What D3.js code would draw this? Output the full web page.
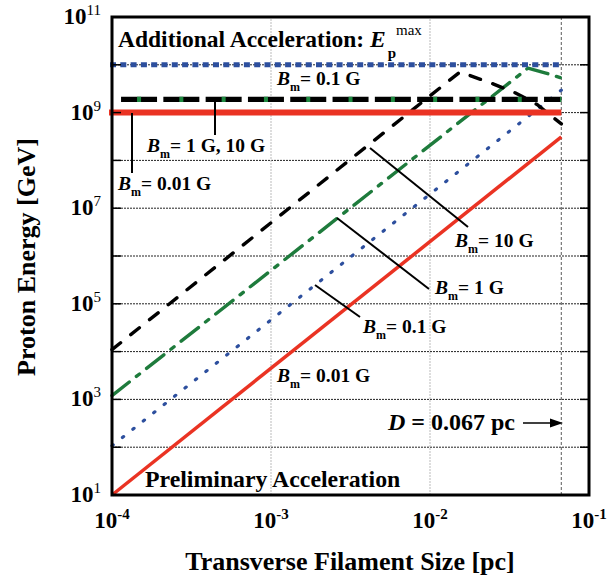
<!DOCTYPE html>
<html>
<head>
<meta charset="utf-8">
<script src="https://cdn.jsdelivr.net/npm/d3@7"></script>
<style>
  body { margin: 0; background: #fff; }
  svg { font-family: "Liberation Serif", "Times New Roman", serif; }
</style>
</head>
<body>
<script>
// axis ticks
const xTicks = [1e-4, 1e-3, 1e-2, 1e-1];
const xTickExp = ["-4", "-3", "-2", "-1"];
const yTicks = [1e1, 1e3, 1e5, 1e7, 1e9, 1e11];
const yTickExp = ["1", "3", "5", "7", "9", "11"];
const gridY = [1e2, 1e3, 1e4, 1e5, 1e6, 1e7, 1e8, 1e9, 1e10];
const gridX = [1e-3, 1e-2];
const filamentD = 0.067;

// preliminary acceleration, one curve per B_m (size in pc, energy in GeV)
const redSize = [1e-4, 0.067];
const redEnergy = [10, 3.1e8];
const blueSize = [1e-4, 0.067];
const blueEnergy = [107, 2.95e9];
const greenSize = [1e-4, 0.0413, 0.0528, 0.067];
const greenEnergy = [1.2e3, 8.5e9, 6.8e9, 5.3e9];
const blackSize = [1e-4, 0.01545, 0.0249, 0.0343, 0.0471, 0.067];
const blackEnergy = [1.1e4, 7.1e9, 4.0e9, 2.6e9, 1.48e9, 5.8e8];

// additional acceleration: E_p^max levels
const emaxBlue = 1e10;      // B_m = 0.1 G
const emaxBlack = 1.9e9;    // B_m = 1 G, 10 G
const emaxRed = 1e9;        // B_m = 0.01 G
const emaxStart = [1e-4, 1.14e-4, 1e-4];

const width = 608, height = 580;
const svg = d3.select("body").append("svg")
    .attr("width", width)
    .attr("height", height);

const x = d3.scaleLog().domain([1e-4, 1e-1]).range([112, 589]);
const y = d3.scaleLog().domain([1e1, 1e11]).range([495, 17]);

const line = d3.line()
    .x(d => x(d[0]))
    .y(d => y(d[1]));

// grid
svg.selectAll(".gy")
    .data(gridY)
    .enter()
    .append("line")
    .attr("x1", x(1e-4)).attr("x2", x(1e-1))
    .attr("y1", d => y(d)).attr("y2", d => y(d))
    .attr("stroke", "#222")
    .attr("stroke-width", 1)
    .attr("stroke-dasharray", "2,1");

svg.selectAll(".gx")
    .data(gridX)
    .enter()
    .append("line")
    .attr("x1", d => x(d)).attr("x2", d => x(d))
    .attr("y1", y(1e1)).attr("y2", y(1e11))
    .attr("stroke", "#bbb")
    .attr("stroke-width", 1)
    .attr("stroke-dasharray", "2,1");

svg.append("line")
    .attr("x1", x(filamentD)).attr("x2", x(filamentD))
    .attr("y1", y(1e1)).attr("y2", y(1e11))
    .attr("stroke", "#777")
    .attr("stroke-width", 1.2)
    .attr("stroke-dasharray", "3,2");

// curves
function curve(sizes, energies, color, w, dash, cap) {
  svg.append("path")
      .attr("d", line(sizes.map((s, i) => [s, energies[i]])))
      .attr("fill", "none")
      .attr("stroke", color)
      .attr("stroke-width", w)
      .attr("stroke-dasharray", dash)
      .attr("stroke-linecap", cap);
}
curve(blueSize, blueEnergy, "#2d4f9e", 3.2, "1.5,11.8", "round");
curve(greenSize, greenEnergy, "#1e7b3c", 3.4, "22,9,4,9", "round");
curve(blackSize, blackEnergy, "#000", 3.4, "11,13", "round");
curve(redSize, redEnergy, "#ea3323", 3.5, null, "butt");

// E_p^max levels
svg.append("line")
    .attr("x1", x(emaxStart[0]) - 2).attr("x2", x(filamentD))
    .attr("y1", y(emaxBlue)).attr("y2", y(emaxBlue))
    .attr("stroke", "#2d4f9e")
    .attr("stroke-width", 5)
    .attr("stroke-dasharray", "6,4.3");

svg.append("line")
    .attr("x1", x(emaxStart[1])).attr("x2", x(filamentD))
    .attr("y1", y(emaxBlack)).attr("y2", y(emaxBlack))
    .attr("stroke", "#000")
    .attr("stroke-width", 5.3)
    .attr("stroke-dasharray", "36,6.3");

svg.append("line")
    .attr("x1", x(emaxStart[1])).attr("x2", x(filamentD))
    .attr("y1", y(emaxBlack)).attr("y2", y(emaxBlack))
    .attr("stroke", "#1e8a40")
    .attr("stroke-width", 5.3)
    .attr("stroke-dasharray", "4,38.3")
    .attr("stroke-dashoffset", 26.3);

svg.append("line")
    .attr("x1", x(emaxStart[2]) - 3).attr("x2", x(filamentD))
    .attr("y1", y(emaxRed)).attr("y2", y(emaxRed))
    .attr("stroke", "#ea3323")
    .attr("stroke-width", 6);

// leader lines for the labels
const leaders = [
  [[215, 102], [215, 135]],
  [[132, 113], [132, 173]],
  [[370, 148], [468, 227]],
  [[337, 218], [429, 289]],
  [[315, 285], [360, 317]]
];
leaders.forEach(l => {
  svg.append("line")
      .attr("x1", l[0][0]).attr("y1", l[0][1])
      .attr("x2", l[1][0]).attr("y2", l[1][1])
      .attr("stroke", "#000")
      .attr("stroke-width", 2);
});

function bLabel(px, py, rest) {
  const t = svg.append("text")
      .attr("x", px).attr("y", py)
      .attr("font-size", 19.5)
      .attr("font-weight", "bold");
  t.append("tspan").attr("font-style", "italic").text("B");
  t.append("tspan").attr("font-size", 12).attr("dy", 6).text("m");
  t.append("tspan").attr("dy", -6).text("= " + rest);
}
bLabel(277, 85, "0.1 G");
bLabel(147, 152, "1 G, 10 G");
bLabel(118, 190, "0.01 G");
bLabel(455, 247, "10 G");
bLabel(435, 294, "1 G");
bLabel(363, 333, "0.1 G");
bLabel(277, 382, "0.01 G");

// title inside the frame
const title = svg.append("text")
    .attr("x", 118).attr("y", 47)
    .attr("font-size", 23.5)
    .attr("font-weight", "bold");
title.append("tspan").text("Additional Acceleration: ");
title.append("tspan").attr("font-style", "italic").text("E");
title.append("tspan").attr("font-size", 15).attr("dx", 2).attr("dy", 11).text("p");
title.append("tspan").attr("font-size", 15).attr("font-weight", "normal")
    .attr("dy", -23).text("max");

svg.append("text")
    .attr("x", 145).attr("y", 487)
    .attr("font-size", 23.8)
    .attr("font-weight", "bold")
    .text("Preliminary Acceleration");

const dl = svg.append("text")
    .attr("x", 388).attr("y", 430)
    .attr("font-size", 24)
    .attr("font-weight", "bold");
dl.append("tspan").attr("font-style", "italic").text("D");
dl.append("tspan").text(" = 0.067 pc");

svg.append("line")
    .attr("x1", 523).attr("x2", 553)
    .attr("y1", 423).attr("y2", 423)
    .attr("stroke", "#000")
    .attr("stroke-width", 1.5);
svg.append("path")
    .attr("d", "M563,423 L550,418.5 L550,427.5 Z")
    .attr("fill", "#000");

// frame and ticks
svg.append("rect")
    .attr("x", 112).attr("y", 17)
    .attr("width", 477).attr("height", 478)
    .attr("fill", "none")
    .attr("stroke", "#000")
    .attr("stroke-width", 3);

svg.selectAll(".tl")
    .data(gridY)
    .enter()
    .append("line")
    .attr("x1", 112).attr("x2", 121)
    .attr("y1", d => y(d)).attr("y2", d => y(d))
    .attr("stroke", "#000").attr("stroke-width", 1.5);
svg.selectAll(".tr")
    .data(gridY)
    .enter()
    .append("line")
    .attr("x1", 580).attr("x2", 589)
    .attr("y1", d => y(d)).attr("y2", d => y(d))
    .attr("stroke", "#000").attr("stroke-width", 1.5);

// tick labels
xTicks.forEach((v, i) => {
  const t = svg.append("text")
      .attr("x", x(v)).attr("y", 528)
      .attr("text-anchor", "middle")
      .attr("font-size", 23)
      .attr("font-weight", "bold");
  t.append("tspan").text("10");
  t.append("tspan").attr("font-size", 15).attr("dy", -9).text(xTickExp[i]);
});

yTicks.forEach((v, i) => {
  const t = svg.append("text")
      .attr("x", 101).attr("y", y(v) + 7)
      .attr("text-anchor", "end")
      .attr("font-size", 23)
      .attr("font-weight", "bold");
  t.append("tspan").text("10");
  t.append("tspan").attr("font-size", 15).attr("font-weight", "normal").attr("dy", -9).text(yTickExp[i]);
});

// axis titles
svg.append("text")
    .attr("transform", "translate(35,257) rotate(-90)")
    .attr("text-anchor", "middle")
    .attr("font-size", 26)
    .attr("font-weight", "bold")
    .text("Proton Energy [GeV]");

svg.append("text")
    .attr("x", 350).attr("y", 570)
    .attr("text-anchor", "middle")
    .attr("font-size", 26)
    .attr("font-weight", "bold")
    .text("Transverse Filament Size [pc]");
</script>
</body>
</html>
